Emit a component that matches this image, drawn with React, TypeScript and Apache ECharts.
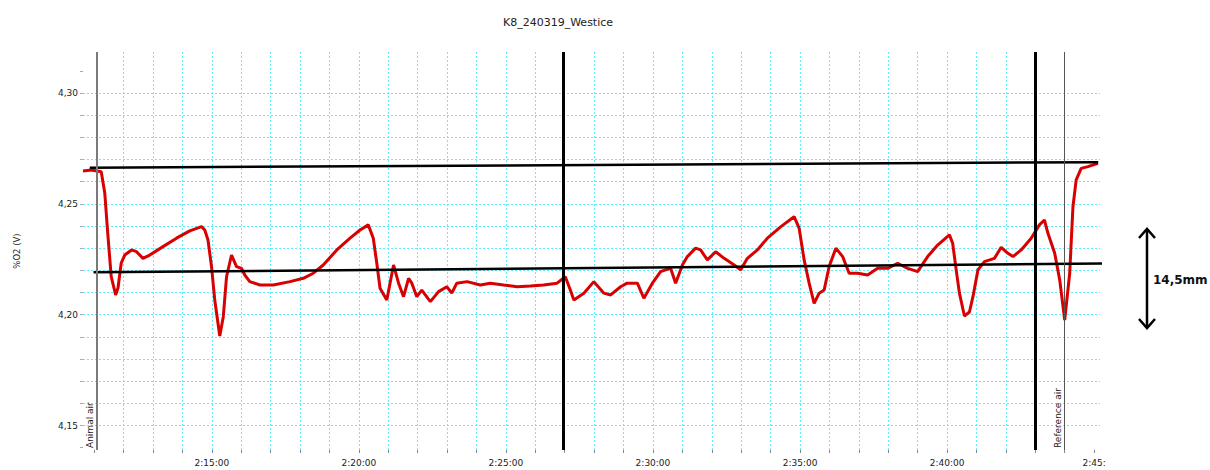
import React, { useEffect, useRef } from "react";
import * as echarts from "echarts";

const TITLE = "K8_240319_Westice";
const Y_NAME = "%O2 (V)";
const ARROW_LABEL = "14,5mm";

// time axis in minutes after 2:00:00
const traceMinutes = [
  10.62, 10.91, 11.24, 11.36, 11.46, 11.58, 11.73, 11.81, 11.92, 12.04, 12.27, 12.44, 12.66, 12.89, 13.34, 13.8, 14.25,
  14.65, 14.76, 14.87, 14.99, 15.1, 15.27, 15.39, 15.5, 15.67, 15.84, 16.01, 16.12, 16.29, 16.64, 17.09, 17.66, 18.11,
  18.45, 18.79, 19.25, 19.7, 20.04, 20.32, 20.49, 20.61, 20.72, 20.95, 21.18, 21.35, 21.52, 21.69, 21.8, 21.97, 22.14,
  22.43, 22.71, 22.99, 23.16, 23.33, 23.68, 24.13, 24.47, 24.92, 25.38, 25.83, 26.28, 26.74, 27.02, 27.19, 27.31,
  27.65, 27.99, 28.33, 28.56, 28.9, 29.12, 29.47, 29.69, 29.98, 30.26, 30.43, 30.6, 30.77, 31.0, 31.17, 31.45, 31.62,
  31.85, 32.13, 32.42, 32.76, 32.98, 33.21, 33.55, 33.89, 34.35, 34.8, 34.97, 35.14, 35.31, 35.48, 35.65, 35.82,
  35.99, 36.22, 36.45, 36.67, 36.96, 37.3, 37.64, 37.98, 38.32, 38.66, 39.0, 39.34, 39.68, 40.08, 40.19, 40.31,
  40.42, 40.59, 40.76, 40.88, 41.05, 41.27, 41.61, 41.84, 42.07, 42.24, 42.52, 42.86, 43.14, 43.31, 43.43, 43.66,
  43.83, 44.0, 44.17, 44.28, 44.39, 44.56, 44.79, 45.13,
];
const traceValues = [
  4.2648, 4.2653, 4.2645, 4.2549, 4.2369, 4.2171, 4.2089, 4.212, 4.2233, 4.2269, 4.2292, 4.2284, 4.2254, 4.2269,
  4.2307, 4.2345, 4.2378, 4.2397, 4.2382, 4.2337, 4.2217, 4.2066, 4.1904, 4.1991, 4.2171, 4.2269, 4.2217, 4.2209,
  4.2179, 4.2149, 4.2134, 4.2134, 4.2149, 4.2164, 4.2187, 4.2224, 4.2292, 4.2345, 4.2382, 4.2405, 4.2345, 4.2232,
  4.2119, 4.2066, 4.2224, 4.2142, 4.2081, 4.2164, 4.2142, 4.2081, 4.2111, 4.2059, 4.2104, 4.2126, 4.2097, 4.2142,
  4.2149, 4.2134, 4.2142, 4.2134, 4.2126, 4.2129, 4.2134, 4.2142, 4.2171, 4.2111, 4.2066, 4.2097, 4.2149, 4.2097,
  4.2089, 4.2126, 4.2142, 4.2142, 4.2074, 4.2142, 4.2194, 4.2202, 4.2209, 4.2142, 4.2224, 4.2262, 4.23, 4.2292,
  4.2247, 4.2284, 4.2254, 4.2224, 4.2202, 4.2254, 4.2292, 4.2345, 4.2397, 4.2442, 4.239, 4.2247, 4.2142, 4.2051,
  4.2097, 4.2111, 4.2217, 4.23, 4.2262, 4.2187, 4.2187, 4.2179, 4.2209, 4.2209, 4.2232, 4.2209, 4.2194, 4.2262,
  4.2314, 4.236, 4.2322, 4.2202, 4.2097, 4.1994, 4.2012, 4.2081, 4.2202, 4.2239, 4.2254, 4.2304, 4.2277, 4.2262,
  4.2292, 4.2345, 4.2405, 4.2427, 4.2367, 4.2277, 4.2157, 4.1976, 4.2187, 4.2487, 4.2608, 4.266, 4.2668, 4.2683,
];

const xTickMinutes = [
  11, 12, 13, 14, 15, 16, 17, 18, 19, 20, 21, 22, 23, 24, 25, 26, 27, 28, 29, 30, 31, 32, 33, 34, 35, 36, 37, 38, 39,
  40, 41, 42, 43, 44, 45,
];
const xLabelMinutes = [15, 20, 25, 30, 35, 40, 45];
const xTickLabels = ["2:15:00", "2:20:00", "2:25:00", "2:30:00", "2:35:00", "2:40:00", "2:45:"];

const yTickValues = [4.14, 4.15, 4.16, 4.17, 4.18, 4.19, 4.2, 4.21, 4.22, 4.23, 4.24, 4.25, 4.26, 4.27, 4.28, 4.29, 4.3, 4.31];
const yLabelValues = [4.15, 4.2, 4.25, 4.3];
const yTickLabels = ["4,15", "4,20", "4,25", "4,30"];

const eventMinutes = [11.08, 26.95, 43.0, 43.98];
const eventNames = ["Animal air", "", "", "Reference air"];

const upperRefMinutes = [10.85, 45.14];
const upperRefValues = [4.2663, 4.2688];
const lowerRefMinutes = [10.98, 45.35];
const lowerRefValues = [4.2191, 4.2231];

const X_MIN = 10.62;
const X_MAX = 45.2;
const Y_MIN = 4.13895;
const Y_MAX = 4.31849;

const FONT = "DejaVu Sans";
const GRID_COLOR = "#5ceefc";

const eventStyles = [
  { color: "#7a7a7a", width: 2 },
  { color: "#000000", width: 3 },
  { color: "#000000", width: 3 },
  { color: "#555555", width: 1 },
];

export default function App() {
  const ref = useRef<HTMLDivElement>(null);

  useEffect(() => {
    if (!ref.current) return;
    const chart = echarts.init(ref.current, undefined, { renderer: "svg" });
    const near = (a: number, b: number) => Math.abs(a - b) < 1e-6;

    chart.setOption({
      animation: false,
      backgroundColor: "#ffffff",
      title: {
        text: TITLE,
        left: 553,
        top: 12,
        textAlign: "center",
        textStyle: { fontFamily: FONT, fontSize: 11, fontWeight: "normal", color: "#222" },
      },
      grid: { left: 83, right: 110, top: 52, bottom: 20, containLabel: false },
      xAxis: {
        type: "value",
        min: X_MIN,
        max: X_MAX,
        axisLine: { show: false },
        axisTick: {
          show: true,
          length: 3,
          customValues: xTickMinutes,
          lineStyle: { color: "#888", width: 1 },
        },
        axisLabel: {
          customValues: xLabelMinutes,
          margin: 8,
          fontFamily: FONT,
          fontSize: 9,
          color: "#222",
          formatter: (v: number) => {
            const i = xLabelMinutes.findIndex((m) => near(m, v));
            return i >= 0 ? xTickLabels[i] : "";
          },
        },
        splitLine: {
          show: true,
          showMinLine: false,
          showMaxLine: false,
          lineStyle: { color: GRID_COLOR, width: 1, type: [2, 2] },
        },
      },
      yAxis: {
        type: "value",
        min: Y_MIN,
        max: Y_MAX,
        name: Y_NAME,
        nameLocation: "middle",
        nameGap: 62,
        nameTextStyle: { fontFamily: FONT, fontSize: 8.5, color: "#222" },
        axisLine: { show: false },
        axisTick: {
          show: true,
          length: 3,
          customValues: yTickValues,
          lineStyle: { color: "#aaa", width: 1 },
        },
        axisLabel: {
          customValues: yLabelValues,
          margin: 5,
          fontFamily: FONT,
          fontSize: 9,
          color: "#222",
          formatter: (v: number) => {
            const i = yLabelValues.findIndex((m) => near(m, v));
            return i >= 0 ? yTickLabels[i] : "";
          },
        },
        splitLine: {
          show: true,
          showMinLine: false,
          showMaxLine: false,
          lineStyle: { color: GRID_COLOR, width: 1, type: [2, 2] },
        },
      },
      series: [
        {
          type: "line",
          name: "trace",
          data: traceMinutes.map((m, i) => [m, traceValues[i]]),
          showSymbol: false,
          symbol: "none",
          lineStyle: { color: "#d80000", width: 3 },
          z: 2,
        },
        {
          type: "line",
          name: "upper",
          data: upperRefMinutes.map((m, i) => [m, upperRefValues[i]]),
          showSymbol: false,
          symbol: "none",
          clip: false,
          lineStyle: { color: "#000", width: 2.5 },
          z: 3,
        },
        {
          type: "line",
          name: "lower",
          data: lowerRefMinutes.map((m, i) => [m, lowerRefValues[i]]),
          showSymbol: false,
          symbol: "none",
          clip: false,
          lineStyle: { color: "#000", width: 2.5 },
          z: 3,
          markLine: {
            silent: true,
            symbol: ["none", "none"],
            data: eventMinutes.map((m, i) => ({
              xAxis: m,
              lineStyle: { type: "solid", color: eventStyles[i].color, width: eventStyles[i].width },
              label: {
                show: eventNames[i] !== "",
                formatter: eventNames[i],
                position: "insideStartTop",
                distance: 2,
                fontFamily: FONT,
                fontSize: 9,
                color: "#222",
              },
            })),
          },
        },
      ],
      graphic: [
        {
          type: "group",
          children: [
            { type: "line", shape: { x1: 1147, y1: 230, x2: 1147, y2: 327 }, style: { stroke: "#000", lineWidth: 2.5 } },
            {
              type: "polyline",
              shape: { points: [[1139, 238], [1147, 229], [1155, 238]] },
              style: { stroke: "#000", lineWidth: 2.5, fill: null },
            },
            {
              type: "polyline",
              shape: { points: [[1139, 319], [1147, 328], [1155, 319]] },
              style: { stroke: "#000", lineWidth: 2.5, fill: null },
            },
            {
              type: "text",
              x: 1153,
              y: 280,
              style: {
                text: ARROW_LABEL,
                fontFamily: FONT,
                fontSize: 12,
                fontWeight: "bold",
                fill: "#111",
                verticalAlign: "middle",
                align: "left",
              },
            },
          ],
        },
      ],
    });

    return () => chart.dispose();
  }, []);

  return (
    <div
      ref={ref}
      style={{ position: "fixed", left: 0, top: 0, width: 1210, height: 470, background: "#fff" }}
    />
  );
}
